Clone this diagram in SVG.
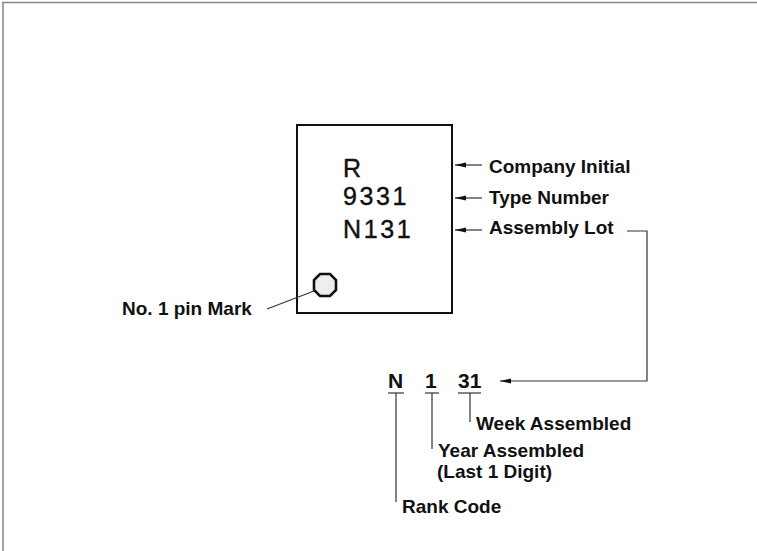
<svg xmlns="http://www.w3.org/2000/svg" width="757" height="551" viewBox="0 0 757 551">
<defs>
<style>
.lbl{font-family:"Liberation Sans",Arial,sans-serif;font-size:19px;font-weight:bold;fill:#111}
.big{font-family:"Liberation Sans",Arial,sans-serif;font-size:25px;fill:#111;stroke:#111;stroke-width:0.4;letter-spacing:2.6px}
.mid{font-family:"Liberation Sans",Arial,sans-serif;font-size:21px;font-weight:bold;fill:#111}
.ln{stroke:#333;stroke-width:1.2;fill:none}
</style>
<marker id="ah" markerWidth="12" markerHeight="6" refX="11" refY="3" orient="auto" markerUnits="userSpaceOnUse">
<path d="M11,3 L0,0.6 L0,5.4 Z" fill="#111"/>
</marker>
</defs>
<rect width="757" height="551" fill="#fff"/>
<g id="frame">
<line x1="2" y1="2.5" x2="757" y2="2.5" stroke="#888" stroke-width="1.5"/>
<line x1="3" y1="2" x2="3" y2="551" stroke="#888" stroke-width="1.5"/>
</g>
<g id="chip">
<rect x="297" y="125" width="155" height="188" fill="#fff" stroke="#111" stroke-width="2"/>
<text class="big" x="343" y="176.5">R</text>
<text class="big" x="343" y="205">9331</text>
<text class="big" x="343" y="238">N131</text>
<polygon points="320,274 330,274 336,280 336,290 330,296 320,296 314,290 314,280" fill="#eee" stroke="#111" stroke-width="2.6"/>
</g>
<g id="pin-label">
<text class="lbl" x="122" y="315">No. 1 pin Mark</text>
</g>
<g id="company-label"><text class="lbl" x="489" y="173">Company Initial</text></g>
<g id="type-label"><text class="lbl" x="489" y="204">Type Number</text></g>
<g id="lot-label"><text class="lbl" x="489" y="234">Assembly Lot</text></g>
<g id="lot-code">
<text class="mid" x="388" y="388">N</text>
<text class="mid" x="425" y="388">1</text>
<text class="mid" x="458" y="388">31</text>
</g>
<g id="week-label"><text class="lbl" x="476" y="430">Week Assembled</text></g>
<g id="year-label"><text class="lbl" x="438" y="457">Year Assembled</text><text class="lbl" x="437" y="478">(Last 1 Digit)</text></g>
<g id="rank-label"><text class="lbl" x="402" y="513">Rank Code</text></g>
<g id="connectors">
<line class="ln" x1="482" y1="165" x2="455" y2="165" marker-end="url(#ah)"/>
<line class="ln" x1="482" y1="198" x2="455" y2="198" marker-end="url(#ah)"/>
<line class="ln" x1="482" y1="230" x2="455" y2="230" marker-end="url(#ah)"/>
<line class="ln" x1="267" y1="309" x2="314" y2="291"/>
<polyline class="ln" points="627,231 647,231 647,381 500,381" marker-end="url(#ah)"/>
<line class="ln" x1="388" y1="393" x2="404" y2="393"/>
<line class="ln" x1="425" y1="393" x2="439" y2="393"/>
<line class="ln" x1="458" y1="393" x2="481" y2="393"/>
<line class="ln" x1="396" y1="393" x2="396" y2="502"/>
<line class="ln" x1="432" y1="393" x2="432" y2="449"/>
<line class="ln" x1="470" y1="393" x2="470" y2="422"/>
</g>
</svg>
